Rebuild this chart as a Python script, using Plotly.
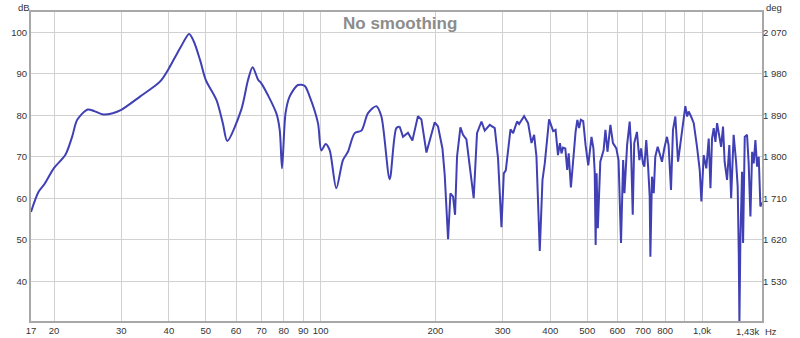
import math
import plotly.graph_objects as go

# Frequency response (Hz, dB)
freq_hz = [
    17.4, 18.2, 18.9, 20.0, 21.4, 22.3, 23.0, 24.5, 25.5, 26.9, 28.5, 30.0, 33.6, 37.9, 40.0, 41.8, 43.0, 45.2, 46.5, 48.3,
    50.0, 53.3, 55.4, 56.9, 61.9, 64.5, 66.3, 68.6, 69.9, 76.5, 78.1, 79.2, 80.9, 82.9, 87.2, 90.8, 93.6, 98.4, 100.4, 103.1, 105.6,
    109.9, 114.4, 117.9, 122.8, 127.9, 133.1, 140.0, 144.3, 151.7, 157.9, 161.1,
    164.4, 169.4, 174.0, 179.9, 183.7, 189.4, 199.1, 203.1, 208.6, 211.5, 215.8, 218.9, 222.4, 225.1, 227.8, 232.5, 236.2,
    241.1, 245.9, 251.9, 257.0, 264.0, 269.3, 277.6, 286.1, 291.8, 297.9, 302.1, 305.8, 314.6, 319.6, 327.3, 331.3, 341.5,
    349.9, 357.1, 362.8, 368.0, 375.4, 381.6, 386.9, 397.1,
    407, 413, 419, 424, 428, 432, 438, 443, 447, 453, 459, 466, 471, 476, 481, 488, 495, 503, 513, 519, 523, 526, 529, 533,
    541, 552, 558, 565, 575, 584, 596, 604, 613, 621, 626, 636, 646, 651, 658, 664, 675, 685, 692, 700, 706, 714, 722, 729,
    732, 739, 747, 754, 765, 777, 785, 796, 809, 817, 829, 839, 851, 865, 881, 895, 904, 914, 922, 936, 951, 970, 986, 996,
    1010, 1026, 1041, 1052, 1062, 1073, 1084, 1095, 1106, 1122, 1135, 1146, 1163, 1179, 1192, 1210, 1228, 1240, 1248, 1253,
    1260, 1273, 1281, 1294, 1312, 1325, 1339, 1353, 1366, 1380, 1394, 1408, 1422, 1436,
]
spl_db = [
    56.7, 61.5, 63.5, 67.3, 70.4, 74.8, 78.9, 81.4, 81.0, 80.2, 80.5, 81.3, 84.5, 88.1, 91.3, 94.5, 96.5, 99.6, 97.8, 93.3,
    88.5, 83.7, 78.1, 73.8, 81.3, 88.5, 91.6, 88.5, 87.7, 80.5, 76.5, 67.2, 80.5, 84.5, 87.3, 87.1, 84.5, 78.1, 71.5, 73.1, 71.6,
    62.4, 69.2, 71.2, 75.7, 76.3, 80.5, 82.2, 79.7, 64.6, 76.9, 77.3,
    74.8, 75.8, 73.9, 79.8, 79.0, 71.0, 78.3, 77.3, 72.0, 65.6, 50.1, 61.2, 60.4, 56.0, 70.0, 77.1, 75.3,
    74.2, 68.0, 60.0, 75.7, 78.5, 76.3, 77.7, 76.9, 69.6, 53.0, 66.0, 66.7, 76.6, 75.7, 78.5, 77.9, 79.8,
    78.1, 73.3, 75.3, 70.0, 47.3, 64.4, 68.4, 79.0,
    76.2, 76.5, 70.4, 73.3, 70.8, 72.2, 72.0, 66.8, 70.8, 62.6, 68.8, 76.0, 78.9, 76.9, 78.9, 78.6, 72.8, 67.9, 74.8, 72.0, 66.4, 48.7, 66.0, 52.8,
    68.8, 71.6, 76.5, 71.2, 77.7, 73.3, 72.0, 69.2, 49.2, 69.2, 61.2, 72.8, 78.5, 72.8, 56.0, 73.3, 76.0, 69.2, 72.0, 68.4, 67.6, 74.0, 67.6, 60.4,
    45.9, 65.2, 61.2, 70.0, 72.4, 70.4, 68.8, 72.0, 74.8, 72.8, 62.0, 76.5, 79.7, 68.8, 74.8, 78.9, 82.2, 79.7, 80.9, 79.7, 78.1, 72.4, 66.8, 59.2,
    70.4, 67.2, 74.4, 62.4, 74.4, 76.9, 73.6, 78.1, 76.0, 72.4, 77.3, 68.8, 64.4, 72.8, 60.0, 75.3, 68.8, 62.8, 46.7, 30.0,
    49.2, 66.4, 49.2, 74.8, 75.3, 68.4, 55.6, 71.2, 68.4, 74.0, 67.6, 70.0, 58.0, 59.0,
]
smooth_until_hz = 161.1  # below this the measured curve is smooth

x_tick_vals = [17.4, 20, 30, 40, 50, 60, 70, 80, 90, 100, 200, 300, 400, 500, 600, 700, 800, 900, 1000]
x_tick_text = ["17", "20", "30", "40", "50", "60", "70", "80", "90", "100", "200", "300", "400", "500",
               "600", "700", "800", "", "1,0k"]
db_ticks = [40, 50, 60, 70, 80, 90, 100]
deg_ticks = [1530, 1620, 1710, 1800, 1890, 1980, 2070]
deg_text = ["1 530", "1 620", "1 710", "1 800", "1 890", "1 980", "2 070"]

x_range_hz = [17.4, 1436]
db_range = [30.4, 104.9]
deg_range = [2070 + (db_range[0] - 100) * 9, 2070 + (db_range[1] - 100) * 9]

FONT = "Liberation Sans, Arial, sans-serif"
GRID = "#d2d2d2"
FRAME = "#a8a8a8"
LINE = "#4040b4"
TS = 9.5

split = freq_hz.index(smooth_until_hz) + 1

fig = go.Figure()
fig.add_trace(go.Scatter(x=freq_hz[:split], y=spl_db[:split], mode="lines",
                         line=dict(color=LINE, width=2, shape="spline", smoothing=0.8),
                         showlegend=False, hoverinfo="skip"))
fig.add_trace(go.Scatter(x=freq_hz[split - 1:], y=spl_db[split - 1:], mode="lines",
                         line=dict(color=LINE, width=2), showlegend=False, hoverinfo="skip"))
fig.add_trace(go.Scatter(x=[None], y=[None], yaxis="y2", showlegend=False, hoverinfo="skip"))

fig.update_layout(
    width=800, height=338,
    margin=dict(l=31, r=38, t=12, b=17, autoexpand=False),
    paper_bgcolor="white", plot_bgcolor="white",
    font=dict(family=FONT, size=TS, color="#333333"),
    xaxis=dict(type="log", range=[math.log10(x_range_hz[0]), math.log10(x_range_hz[1])],
               tickmode="array", tickvals=x_tick_vals, ticktext=x_tick_text, automargin=False,
               showgrid=True, gridcolor=GRID, gridwidth=1,
               showline=True, linecolor=FRAME, linewidth=2, mirror=True,
               ticks="", zeroline=False, tickfont=dict(size=TS)),
    yaxis=dict(range=db_range, tickmode="array", tickvals=db_ticks, automargin=False,
               showgrid=True, gridcolor=GRID, gridwidth=1,
               showline=True, linecolor=FRAME, linewidth=2, mirror=True,
               ticks="", zeroline=False, tickfont=dict(size=TS)),
    yaxis2=dict(range=deg_range, overlaying="y", side="right", tickmode="array", automargin=False,
                tickvals=deg_ticks, ticktext=deg_text, showgrid=False, zeroline=False,
                showline=False, ticks="", tickfont=dict(size=TS)),
)

fig.add_annotation(text="No smoothing", xref="paper", yref="paper", x=0.5044, y=1,
                   yanchor="top", yshift=0, showarrow=False,
                   font=dict(family=FONT, size=17, color="#8c8c8c", weight="bold"))
fig.add_annotation(text="dB", xref="paper", yref="paper", x=0, y=1, xanchor="right",
                   yanchor="bottom", xshift=1, yshift=-3, showarrow=False, font=dict(size=TS))
fig.add_annotation(text="deg", xref="paper", yref="paper", x=1, y=1, xanchor="left",
                   yanchor="bottom", xshift=2, yshift=-3, showarrow=False, font=dict(size=TS))
fig.add_annotation(text="1,43k", xref="paper", yref="paper", x=1, y=0, xanchor="right",
                   yanchor="top", xshift=-1, yshift=-3, showarrow=False, font=dict(size=TS))
fig.add_annotation(text="Hz", xref="paper", yref="paper", x=1, y=0, xanchor="left",
                   yanchor="top", xshift=1, yshift=-3, showarrow=False, font=dict(size=TS))

fig.write_html("out.html")
